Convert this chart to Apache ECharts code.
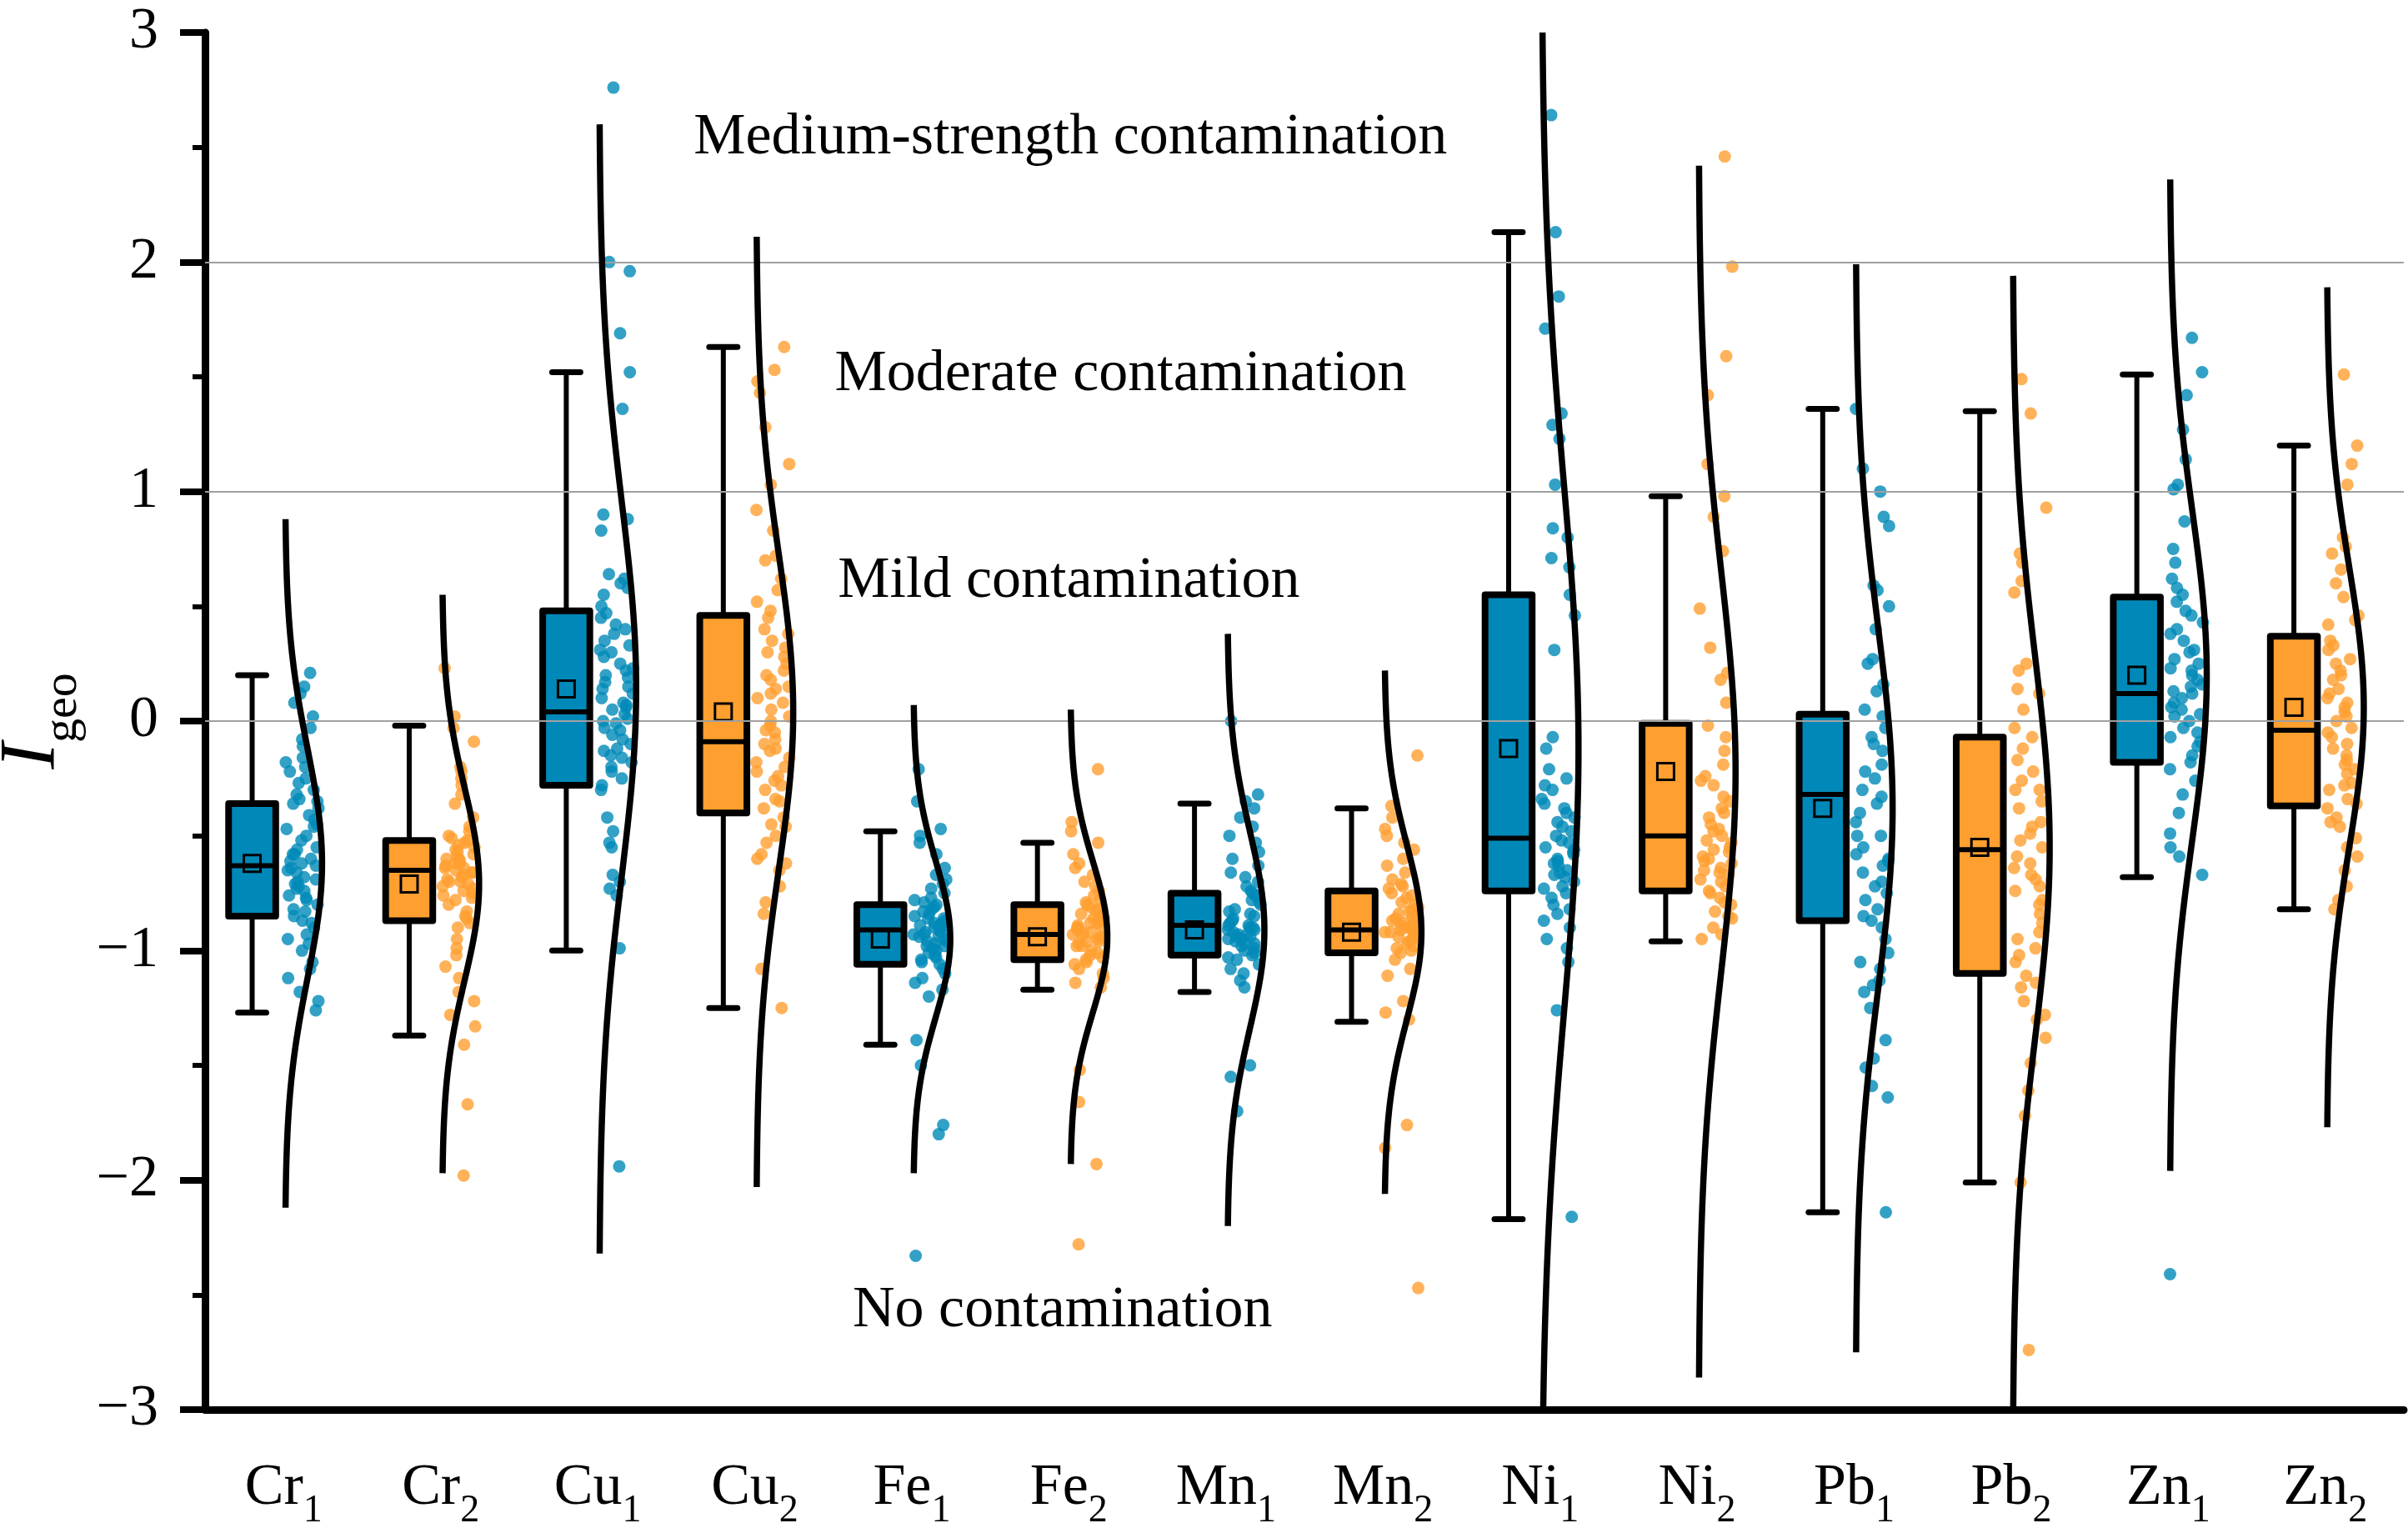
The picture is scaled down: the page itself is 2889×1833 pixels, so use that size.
<!DOCTYPE html>
<html>
<head>
<meta charset="utf-8">
<script src="https://cdn.jsdelivr.net/npm/echarts@6/dist/echarts.min.js"></script>
<style>
  html, body { margin: 0; padding: 0; background: #fff; }
  #main { width: 2889px; height: 1833px; }
</style>
</head>
<body>
<div id="main"></div>
<script>
// groups (element + sampling campaign)
var categories = ['Cr1', 'Cr2', 'Cu1', 'Cu2', 'Fe1', 'Fe2', 'Mn1', 'Mn2', 'Ni1', 'Ni2', 'Pb1', 'Pb2', 'Zn1', 'Zn2'];

// box statistics
var whiskerLow  = [-1.27, -1.37, -1.00, -1.25, -1.41, -1.17, -1.18, -1.31, -2.17, -0.96, -2.14, -2.01, -0.68, -0.82];
var q1          = [-0.85, -0.87, -0.28, -0.40, -1.06, -1.04, -1.02, -1.01, -0.74, -0.74, -0.87, -1.10, -0.18, -0.37];
var median      = [-0.63, -0.65,  0.04, -0.09, -0.91, -0.93, -0.89, -0.91, -0.51, -0.50, -0.32, -0.56,  0.12, -0.04];
var q3          = [-0.36, -0.52,  0.48,  0.46, -0.80, -0.80, -0.75, -0.74,  0.55, -0.01,  0.03, -0.07,  0.54,  0.37];
var whiskerHigh = [ 0.20, -0.02,  1.52,  1.63, -0.48, -0.53, -0.36, -0.38,  2.13,  0.98,  1.36,  1.35,  1.51,  1.20];
var means       = [-0.62, -0.71,  0.14,  0.04, -0.95, -0.94, -0.91, -0.92, -0.12, -0.22, -0.38, -0.55,  0.20,  0.06];
// spread of the fitted normal curve drawn beside each box
var sds         = [ 0.50,  0.42,  0.82,  0.69,  0.34,  0.33,  0.43,  0.38,  1.15,  0.88,  0.79,  0.83,  0.72,  0.61];

// individual samples
var cr1 = [0.21, 0.15, 0.12, 0.08, 0.02, -0.03, -0.08, -0.11, -0.16, -0.18, -0.2, -0.25, -0.27, -0.3, -0.32, -0.34, -0.36, -0.38, -0.41, -0.43, -0.46, -0.47, -0.5, -0.55, -0.58, -0.6, -0.61, -0.63, -0.64, -0.66, -0.68, -0.7, -0.72, -0.74, -0.76, -0.78, -0.8, -0.82, -0.85, -0.88, -0.9, -0.93, -0.95, -1.0, -1.05, -1.08, -1.12, -1.18, -1.22, -1.26,
           -0.52, -0.56, -0.62, -0.65, -0.69, -0.71, -0.73, -0.77, -0.83, -0.87, -0.58, -0.45, -0.35, -0.22, -0.97];
var cr2 = [0.23, 0.02, -0.03, -0.09, -0.2, -0.22, -0.25, -0.28, -0.32, -0.36, -0.42, -0.46, -0.5, -0.52, -0.53, -0.55, -0.57, -0.58, -0.6, -0.61, -0.62, -0.63, -0.64, -0.65, -0.66, -0.68, -0.69, -0.7, -0.71, -0.72, -0.74, -0.76, -0.78, -0.8, -0.83, -0.86, -0.88, -0.9, -0.95, -0.99, -1.02, -1.07, -1.12, -1.18, -1.22, -1.28, -1.33, -1.41, -1.67, -1.98,
           -0.56, -0.59, -0.6, -0.62, -0.64, -0.66, -0.67, -0.7, -0.73, -0.75, -0.77, -0.54, -0.51, -0.48, -0.85];
var cu1 = [2.76, 2.0, 1.96, 1.69, 1.52, 1.36, 0.9, 0.88, 0.83, 0.64, 0.62, 0.6, 0.55, 0.5, 0.47, 0.42, 0.38, 0.35, 0.31, 0.28, 0.25, 0.22, 0.2, 0.17, 0.14, 0.12, 0.1, 0.07, 0.05, 0.03, 0.01, -0.01, -0.03, -0.06, -0.08, -0.1, -0.13, -0.16, -0.2, -0.22, -0.25, -0.28, -0.3, -0.42, -0.48, -0.53, -0.55, -0.67, -0.7, -0.73, -0.76, -0.99, -1.94,
           0.15, 0.08, 0.0, -0.04, -0.12, 0.23, 0.3, 0.45, 0.33, -0.18, 0.19, 0.06, -0.15, 0.58, 0.4];
var cu2 = [1.63, 1.53, 1.48, 1.43, 1.28, 1.12, 1.03, 0.92, 0.83, 0.72, 0.62, 0.57, 0.52, 0.48, 0.45, 0.4, 0.35, 0.3, 0.25, 0.22, 0.18, 0.15, 0.12, 0.08, 0.05, 0.02, -0.02, -0.05, -0.08, -0.1, -0.13, -0.16, -0.18, -0.2, -0.24, -0.28, -0.3, -0.34, -0.38, -0.42, -0.45, -0.5, -0.53, -0.58, -0.62, -0.65, -0.72, -0.79, -0.84, -1.08, -1.25,
           0.1, 0.2, -0.04, -0.12, -0.22, -0.35, 0.28, 0.38, 0.0, -0.46, -0.6, 0.14, 0.32, -0.26, 0.7];
var fe1 = [-0.21, -0.35, -0.47, -0.5, -0.53, -0.58, -0.64, -0.67, -0.69, -0.71, -0.73, -0.75, -0.77, -0.79, -0.8, -0.82, -0.84, -0.85, -0.86, -0.87, -0.88, -0.89, -0.9, -0.91, -0.92, -0.93, -0.94, -0.95, -0.96, -0.97, -0.98, -0.99, -1.0, -1.02, -1.04, -1.06, -1.08, -1.1, -1.12, -1.14, -1.17, -1.2, -1.39, -1.5, -1.76, -1.8, -2.33,
           -0.86, -0.88, -0.9, -0.92, -0.94, -0.96, -0.98, -1.01, -0.83, -0.81, -1.03, -0.78, -1.05, -0.89, -0.93];
var fe2 = [-0.21, -0.44, -0.48, -0.53, -0.58, -0.62, -0.64, -0.67, -0.7, -0.72, -0.74, -0.76, -0.78, -0.8, -0.82, -0.84, -0.85, -0.86, -0.87, -0.88, -0.89, -0.9, -0.91, -0.92, -0.93, -0.94, -0.95, -0.96, -0.97, -0.98, -1.0, -1.02, -1.04, -1.06, -1.08, -1.1, -1.12, -1.14, -1.16, -1.52, -1.66, -1.93, -2.28,
           -0.86, -0.88, -0.9, -0.92, -0.94, -0.96, -0.98, -1.01, -0.83, -0.81, -1.03, -0.79, -1.05, -0.89, -0.93];
var mn1 = [0.0, -0.32, -0.35, -0.38, -0.42, -0.46, -0.5, -0.53, -0.57, -0.6, -0.63, -0.66, -0.68, -0.7, -0.72, -0.74, -0.76, -0.78, -0.8, -0.82, -0.84, -0.86, -0.88, -0.89, -0.9, -0.91, -0.92, -0.93, -0.94, -0.95, -0.96, -0.97, -0.98, -1.0, -1.02, -1.04, -1.06, -1.08, -1.1, -1.13, -1.16, -1.5, -1.55, -1.7,
           -0.87, -0.89, -0.91, -0.93, -0.95, -0.97, -0.99, -0.85, -0.83, -1.01, -0.79, -1.03, -0.75, -0.9, -0.94];
var mn2 = [-0.15, -0.37, -0.42, -0.47, -0.5, -0.53, -0.56, -0.6, -0.63, -0.66, -0.69, -0.71, -0.73, -0.75, -0.77, -0.79, -0.81, -0.83, -0.85, -0.86, -0.87, -0.88, -0.89, -0.9, -0.91, -0.92, -0.93, -0.94, -0.95, -0.97, -0.99, -1.01, -1.04, -1.08, -1.11, -1.22, -1.27, -1.3, -1.76, -1.86, -2.47,
           -0.86, -0.88, -0.9, -0.92, -0.94, -0.96, -0.84, -0.82, -0.98, -0.8, -1.0, -0.76, -0.89, -0.91, -0.72];
var ni1 = [2.64, 2.13, 1.85, 1.71, 1.34, 1.29, 1.23, 1.03, 0.84, 0.8, 0.71, 0.67, 0.55, 0.46, 0.31, -0.07, -0.12, -0.21, -0.25, -0.28, -0.34, -0.38, -0.4, -0.44, -0.46, -0.5, -0.52, -0.55, -0.57, -0.6, -0.62, -0.65, -0.67, -0.7, -0.72, -0.75, -0.8, -0.84, -0.9, -0.95, -0.99, -1.05, -1.26, -2.16,
           -0.48, -0.53, -0.58, -0.63, -0.68, -0.73, -0.77, -0.82, -0.42, -0.36, -0.3, -0.61, -0.56, -0.66, -0.87];
var ni2 = [2.46, 1.98, 1.59, 1.42, 1.12, 0.98, 0.89, 0.74, 0.49, 0.32, 0.21, 0.18, 0.08, -0.02, -0.07, -0.13, -0.19, -0.24, -0.28, -0.33, -0.38, -0.42, -0.45, -0.47, -0.5, -0.53, -0.56, -0.59, -0.61, -0.64, -0.67, -0.7, -0.72, -0.74, -0.77, -0.8, -0.83, -0.86, -0.9, -0.93, -0.95,
           -0.48, -0.52, -0.57, -0.62, -0.66, -0.69, -0.75, -0.79, -0.4, -0.35, -0.26, -0.55, -0.6, -0.65, -0.85];
var pb1 = [1.36, 1.1, 1.0, 0.89, 0.85, 0.59, 0.57, 0.5, 0.4, 0.27, 0.25, 0.16, 0.13, 0.02, -0.03, -0.07, -0.13, -0.19, -0.25, -0.3, -0.36, -0.44, -0.5, -0.55, -0.61, -0.66, -0.72, -0.78, -0.82, -0.87, -0.95, -1.01, -1.08, -1.13, -1.18, -1.25, -1.39, -1.47, -1.51, -1.59, -1.64, -2.14,
           -0.6, -0.63, -0.7, -0.75, -0.85, -0.9, -0.4, -0.33, -0.22, -0.1, 0.05, -0.5, -0.58, -1.05, -1.15];
var pb2 = [1.49, 1.34, 0.93, 0.73, 0.69, 0.61, 0.56, 0.25, 0.22, 0.14, 0.12, -0.03, -0.07, -0.17, -0.22, -0.26, -0.3, -0.38, -0.44, -0.49, -0.55, -0.59, -0.64, -0.69, -0.74, -0.78, -0.84, -0.92, -0.99, -1.05, -1.11, -1.16, -1.22, -1.28, -1.38, -1.49, -1.61, -1.72, -2.01, -2.74,
           -0.3, -0.35, -0.46, -0.52, -0.62, -0.67, -0.72, -0.8, -0.88, -0.95, -1.02, -1.14, -1.3, -0.12, 0.05];
var zn1 = [1.67, 1.52, 1.42, 1.27, 1.14, 1.03, 1.01, 0.87, 0.75, 0.69, 0.62, 0.58, 0.52, 0.46, 0.43, 0.4, 0.35, 0.31, 0.27, 0.23, 0.2, 0.18, 0.15, 0.12, 0.08, 0.05, 0.02, -0.03, -0.07, -0.11, -0.15, -0.21, -0.26, -0.32, -0.4, -0.49, -0.55, -0.59, -0.67, -2.41,
           0.22, 0.16, 0.1, 0.06, 0.0, -0.05, -0.09, 0.3, 0.38, 0.48, 0.55, 0.13, -0.18, 0.25, 0.03];
var zn2 = [1.51, 1.2, 1.12, 1.03, 0.8, 0.76, 0.73, 0.66, 0.6, 0.54, 0.46, 0.42, 0.35, 0.31, 0.27, 0.22, 0.18, 0.14, 0.1, 0.08, 0.04, -0.03, -0.07, -0.1, -0.15, -0.19, -0.23, -0.27, -0.3, -0.34, -0.38, -0.42, -0.46, -0.51, -0.55, -0.59, -0.65, -0.72, -0.78, -0.82,
           0.12, 0.06, 0.0, -0.05, -0.12, -0.17, -0.21, 0.2, 0.25, 0.33, 0.44, -0.36, -0.44, 0.02, -0.28];
var samples = [cr1, cr2, cu1, cu2, fe1, fe2, mn1, mn2, ni1, ni2, pb1, pb2, zn1, zn2];

var yTicks = [-3, -2, -1, 0, 1, 2, 3];
var zoneNames = ['Medium-strength contamination', 'Moderate contamination', 'Mild contamination', 'No contamination'];

var BLUE = '#0089B8';
var ORANGE = '#FF9F2F';
var FONT = '"Liberation Serif", "Times New Roman", "DejaVu Serif", serif';

function colorOf(i) { return i % 2 === 0 ? BLUE : ORANGE; }

// box + whisker + mean marker, shifted left of the category centre
function renderBox(params, api) {
  var x = api.value(0) - 0.2;
  var lo = api.coord([x, api.value(1)]);
  var b1 = api.coord([x, api.value(2)]);
  var md = api.coord([x, api.value(3)]);
  var b3 = api.coord([x, api.value(4)]);
  var hi = api.coord([x, api.value(5)]);
  var mn = api.coord([x, api.value(6)]);
  var half = api.size([0.3, 0])[0] / 2;
  var cap = api.size([0.18, 0])[0] / 2;
  var line = { stroke: '#000', lineWidth: 6 };
  var capStyle = { stroke: '#000', lineWidth: 7, lineCap: 'round' };
  return {
    type: 'group',
    children: [
      { type: 'line', shape: { x1: lo[0], y1: lo[1], x2: lo[0], y2: b1[1] }, style: line },
      { type: 'line', shape: { x1: hi[0], y1: hi[1], x2: hi[0], y2: b3[1] }, style: line },
      { type: 'line', shape: { x1: lo[0] - cap, y1: lo[1], x2: lo[0] + cap, y2: lo[1] }, style: capStyle },
      { type: 'line', shape: { x1: hi[0] - cap, y1: hi[1], x2: hi[0] + cap, y2: hi[1] }, style: capStyle },
      { type: 'rect', shape: { x: b3[0] - half, y: b3[1], width: half * 2, height: b1[1] - b3[1] },
        style: { fill: colorOf(params.dataIndex), stroke: '#000', lineWidth: 8, lineJoin: 'round' } },
      { type: 'line', shape: { x1: md[0] - half, y1: md[1], x2: md[0] + half, y2: md[1] }, style: line },
      { type: 'rect', shape: { x: mn[0] - 10, y: mn[1] - 10, width: 20, height: 20 },
        style: { fill: 'none', stroke: '#000', lineWidth: 3 } }
    ]
  };
}

// normal curve (mean, sd) over mean +/- 3 sd, width scaled to a fixed peak
function renderCurve(params, api) {
  var x0 = api.value(0) + 0.01;
  var m = api.value(1), s = api.value(2);
  var from = Math.max(-3, m - 3 * s), to = Math.min(3, m + 3 * s);
  var pts = [];
  var n = 160;
  for (var k = 0; k <= n; k++) {
    var y = from + (to - from) * k / n;
    var z = (y - m) / s;
    pts.push(api.coord([x0 + 0.235 * Math.exp(-0.5 * z * z), y]));
  }
  return { type: 'polyline', shape: { points: pts }, style: { stroke: '#000', lineWidth: 7.5, fill: null, lineJoin: 'round' } };
}

var boxData = categories.map(function (c, i) {
  return [i + 1, whiskerLow[i], q1[i], median[i], q3[i], whiskerHigh[i], means[i]];
});
var curveData = categories.map(function (c, i) { return [i + 1, means[i], sds[i]]; });

// points spread to the right of the category centre (fixed hash spread, no randomness)
function spread(g, i) {
  var h = Math.sin((i + 1) * 12.9898 + (g + 1) * 78.233) * 43758.5453;
  return h - Math.floor(h);
}
function pointsFor(parity) {
  var out = [];
  samples.forEach(function (arr, g) {
    if (g % 2 !== parity) return;
    arr.forEach(function (v, i) {
      out.push([g + 1 + 0.01 + spread(g, i) * 0.215, v]);
    });
  });
  return out;
}

var chart = echarts.init(document.getElementById('main'), null, { renderer: 'canvas' });
chart.setOption({
  backgroundColor: '#fff',
  animation: false,
  grid: { left: 246, right: 5, top: 39, bottom: 142, containLabel: false, outerBoundsMode: 'none' },
  xAxis: [
    {
      type: 'category',
      data: categories,
      boundaryGap: true,
      axisLine: { onZero: false, lineStyle: { color: '#000', width: 9 } },
      axisTick: { alignWithLabel: true, length: 30, lineStyle: { color: '#000', width: 7 } },
      axisLabel: {
        margin: 60,
        formatter: function (v) { return '{b|' + v.slice(0, -1) + '}{s|' + v.slice(-1) + '}'; },
        rich: {
          b: { fontFamily: FONT, fontSize: 70, color: '#000', lineHeight: 85, verticalAlign: 'top' },
          s: { fontFamily: FONT, fontSize: 46, color: '#000', lineHeight: 46, verticalAlign: 'bottom' }
        }
      },
      splitLine: { show: false }
    },
    { type: 'value', min: 0.5, max: 14.5, show: false }
  ],
  yAxis: {
    type: 'value',
    min: -3, max: 3, interval: 1,
    name: '{i|I}{g|geo}',
    nameLocation: 'middle',
    nameGap: 124,
    nameTextStyle: {
      rich: {
        i: { fontFamily: FONT, fontSize: 96, fontStyle: 'italic', color: '#000', lineHeight: 113, verticalAlign: 'top' },
        g: { fontFamily: FONT, fontSize: 58, color: '#000', lineHeight: 48, verticalAlign: 'bottom' }
      }
    },
    axisLine: { show: true, onZero: false, lineStyle: { color: '#000', width: 9 } },
    axisTick: { show: true, length: 30, lineStyle: { color: '#000', width: 8 } },
    minorTick: { show: true, splitNumber: 2, length: 15, lineStyle: { color: '#000', width: 6 } },
    axisLabel: {
      margin: 56,
      fontFamily: FONT, fontSize: 70, color: '#000',
      formatter: function (v) { return yTicks.indexOf(v) < 0 ? '' : (v < 0 ? '\u2212' + Math.abs(v) : String(v)); }
    },
    splitLine: { show: false }
  },
  series: [
    {
      name: 'zones',
      type: 'scatter',
      xAxisIndex: 1,
      z: 1,
      symbolSize: 1,
      itemStyle: { color: 'rgba(255,255,255,0)' },
      silent: true,
      data: [
        [6.01, 2.54, zoneNames[0]],
        [6.33, 1.51, zoneNames[1]],
        [6.0, 0.607, zoneNames[2]],
        [5.96, -2.57, zoneNames[3]]
      ],
      label: {
        show: true, position: 'inside',
        formatter: function (p) { return p.data[2]; },
        fontFamily: FONT, fontSize: 70, color: '#000', opacity: 1, textBorderWidth: 0
      },
      markLine: {
        silent: true,
        symbol: 'none',
        label: { show: false },
        lineStyle: { color: '#a0a0a0', width: 2, type: 'solid' },
        data: [{ yAxis: 0 }, { yAxis: 1 }, { yAxis: 2 }]
      }
    },
    {
      name: 'box',
      type: 'custom',
      xAxisIndex: 1,
      z: 3,
      renderItem: renderBox,
      encode: { x: 0, y: [1, 2, 3, 4, 5, 6] },
      data: boxData
    },
    {
      name: 'samples-1',
      type: 'scatter',
      xAxisIndex: 1,
      z: 4,
      symbolSize: 15,
      itemStyle: { color: BLUE },
      data: pointsFor(0)
    },
    {
      name: 'samples-2',
      type: 'scatter',
      xAxisIndex: 1,
      z: 4,
      symbolSize: 15,
      itemStyle: { color: ORANGE },
      data: pointsFor(1)
    },
    {
      name: 'curve',
      type: 'custom',
      xAxisIndex: 1,
      z: 5,
      renderItem: renderCurve,
      encode: { x: 0, y: 1 },
      data: curveData
    }
  ]
});
</script>
</body>
</html>
